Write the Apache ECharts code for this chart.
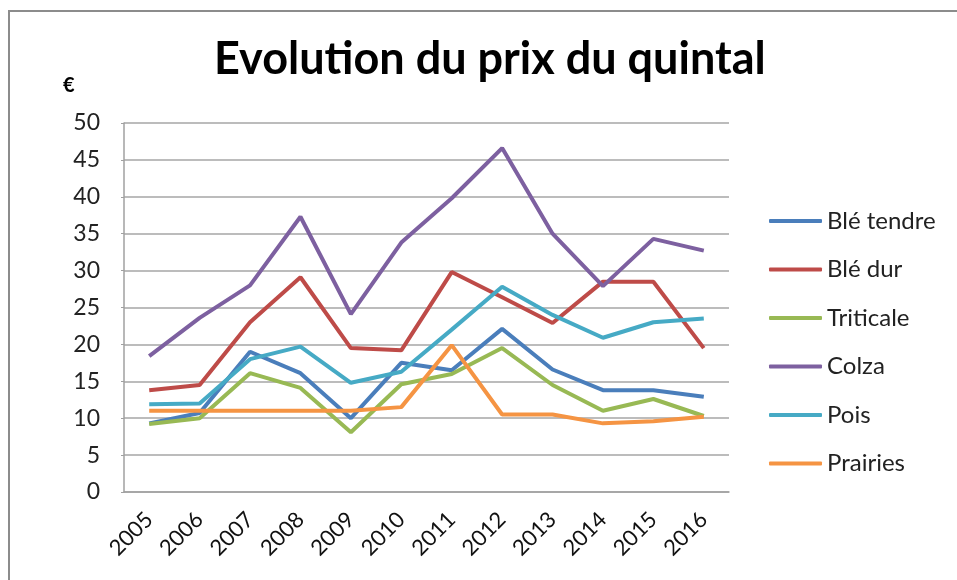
<!DOCTYPE html>
<html>
<head>
<meta charset="utf-8">
<script src="https://cdn.jsdelivr.net/npm/echarts@6/dist/echarts.min.js"></script>
<style>
  html, body { margin: 0; padding: 0; background: #fff; }
  #chart { width: 957px; height: 580px; }
</style>
</head>
<body>
<div id="chart"></div>
<script>
// données (€ / quintal)
var years = ['2005', '2006', '2007', '2008', '2009', '2010', '2011', '2012', '2013', '2014', '2015', '2016'];
var bleTendre = [9.3, 10.7, 19.0, 16.1, 10.0, 17.5, 16.5, 22.1, 16.6, 13.8, 13.8, 12.9];
var bleDur = [13.8, 14.5, 23.0, 29.1, 19.5, 19.2, 29.8, 26.4, 22.9, 28.5, 28.5, 19.5];
var triticale = [9.2, 10.0, 16.1, 14.1, 8.1, 14.6, 16.0, 19.5, 14.5, 11.0, 12.6, 10.3];
var colza = [18.4, 23.6, 28.0, 37.3, 24.1, 33.8, 39.8, 46.6, 35.0, 27.9, 34.3, 32.7];
var pois = [11.9, 12.0, 18.0, 19.7, 14.8, 16.3, 22.0, 27.8, 24.0, 20.9, 23.0, 23.5];
var prairies = [11.0, 11.0, 11.0, 11.0, 11.0, 11.5, 19.9, 10.5, 10.5, 9.3, 9.6, 10.2];

var names = ['Blé tendre', 'Blé dur', 'Triticale', 'Colza', 'Pois', 'Prairies'];
var values = [bleTendre, bleDur, triticale, colza, pois, prairies];
var colors = ['#4a7ebb', '#be4b48', '#98b954', '#7d60a0', '#46aac5', '#f59443'];

var myChart = echarts.init(document.getElementById('chart'));

var series = names.map(function (n, i) {
    return {
        name: n,
        type: 'line',
        data: values[i],
        symbol: 'none',
        lineStyle: { width: 4, color: colors[i] },
        itemStyle: { color: colors[i] }
    };
});

var font = 'Lato, "Open Sans", sans-serif';

myChart.setOption({
    animation: false,
    textStyle: { fontFamily: font },
    title: {
        text: 'Evolution du prix du quintal',
        left: 209,
        top: 32,
        textStyle: { fontFamily: font, fontSize: 45, fontWeight: 'bold', color: '#000' }
    },
    graphic: [
        {
            type: 'rect',
            shape: { x: 9, y: 11, width: 1100, height: 700 },
            style: { fill: 'none', stroke: '#8c8c8c', lineWidth: 2 },
            silent: true
        },
        {
            type: 'text',
            left: 63,
            top: 76,
            style: { text: '€', font: 'bold 20px ' + font, fill: '#000' }
        }
    ],
    legend: {
        orient: 'vertical',
        left: 769,
        top: 209,
        padding: 0,
        icon: 'roundRect',
        itemWidth: 53,
        itemHeight: 4,
        itemGap: 24.5,
        textStyle: { fontFamily: font, fontSize: 24, color: '#222' },
        data: names
    },
    grid: { left: 124, top: 123, right: 228, bottom: 88 },
    xAxis: {
        type: 'category',
        data: years,
        boundaryGap: true,
        axisLine: { lineStyle: { color: '#a0a0a0', width: 1.5 } },
        axisTick: { show: false },
        axisLabel: { rotate: 45, fontSize: 22, color: '#111', margin: 24, fontFamily: font }
    },
    yAxis: {
        type: 'value',
        min: 0,
        max: 50,
        interval: 5,
        axisLine: { show: true, lineStyle: { color: '#a0a0a0', width: 1.5 } },
        axisTick: { show: true, length: 3, lineStyle: { color: '#a0a0a0' } },
        axisLabel: { fontSize: 23, color: '#222', margin: 24, fontFamily: font },
        splitLine: { lineStyle: { color: '#a6a6a6', width: 1.5 } }
    },
    series: series
});
</script>
</body>
</html>
